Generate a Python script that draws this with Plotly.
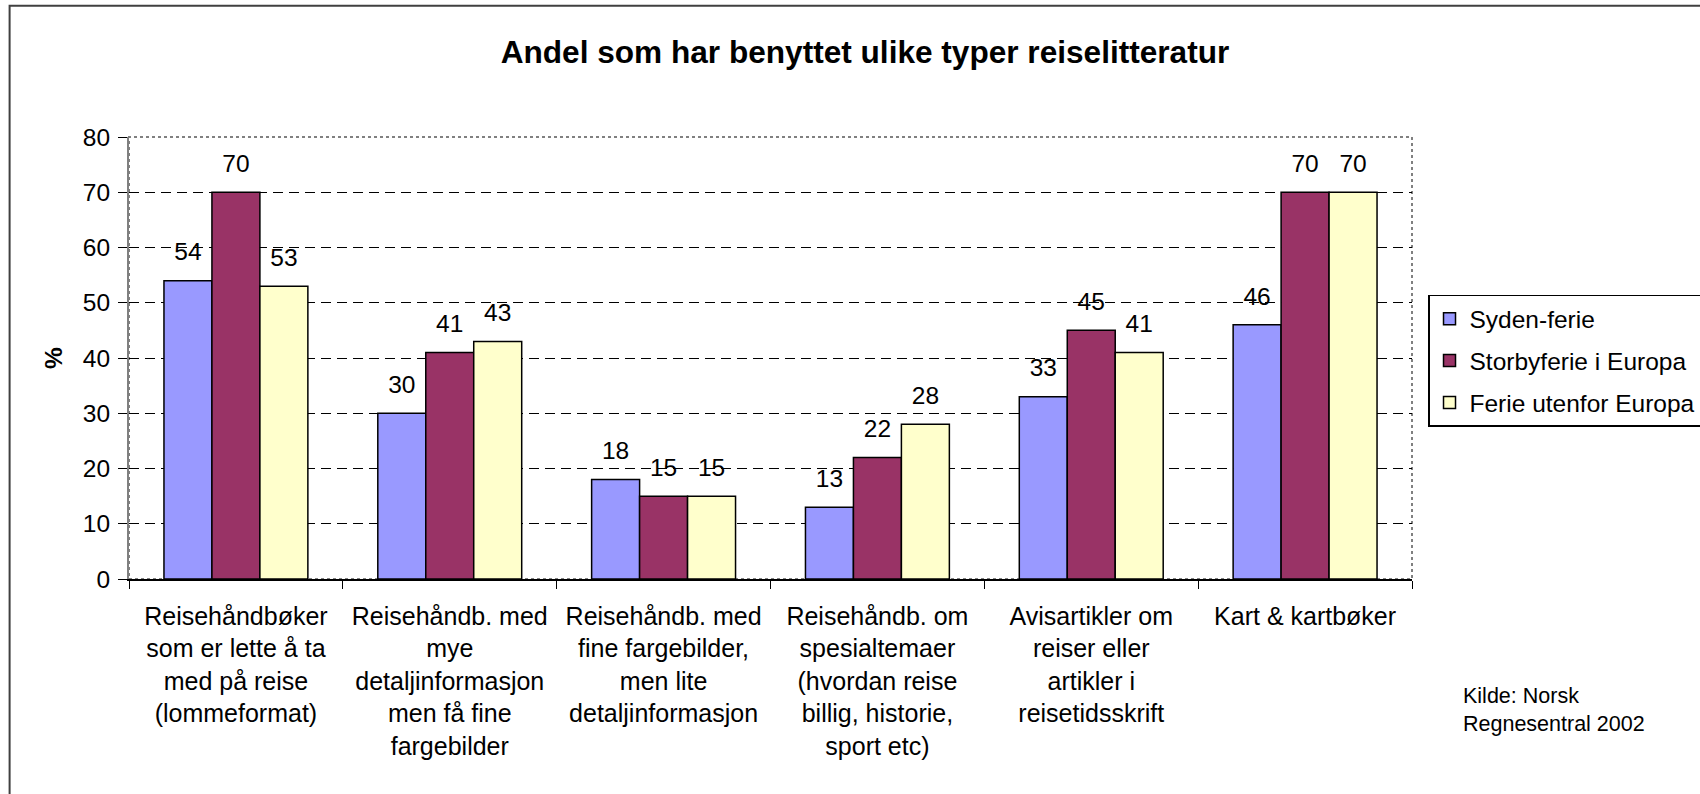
import plotly.graph_objects as go

categories = [
    "Reisehåndbøker<br>som er lette å ta<br>med på reise<br>(lommeformat)",
    "Reisehåndb. med<br>mye<br>detaljinformasjon<br>men få fine<br>fargebilder",
    "Reisehåndb. med<br>fine fargebilder,<br>men lite<br>detaljinformasjon",
    "Reisehåndb. om<br>spesialtemaer<br>(hvordan reise<br>billig, historie,<br>sport etc)",
    "Avisartikler om<br>reiser eller<br>artikler i<br>reisetidsskrift",
    "Kart & kartbøker",
]
series_names = ["Syden-ferie", "Storbyferie i Europa", "Ferie utenfor Europa"]
syden = [54, 30, 18, 13, 33, 46]
storby = [70, 41, 15, 22, 45, 70]
utenfor = [53, 43, 15, 28, 41, 70]
series_values = [syden, storby, utenfor]
colors = ["#9999FF", "#993366", "#FFFFCC"]

y_ticks = [0, 10, 20, 30, 40, 50, 60, 70, 80]
title_text = "Andel som har benyttet ulike typer reiselitteratur"
source_text = "Kilde: Norsk<br>Regnesentral 2002"

FONT = "Arial, Liberation Sans, sans-serif"
GAP = 0.327

fig = go.Figure()
for i, (name, vals, col) in enumerate(zip(series_names, series_values, colors)):
    fig.add_trace(go.Bar(
        x=categories, y=vals, name=name, offsetgroup=str(i), legendgroup=str(i),
        marker=dict(color=col, line=dict(color="black", width=1.5)),
        hoverinfo="skip",
    ))
for i, vals in enumerate(series_values):
    fig.add_trace(go.Scatter(
        x=categories, y=vals, offsetgroup=str(i), legendgroup=str(i), mode="markers+text",
        text=[str(v) for v in vals], textposition="top center",
        textfont=dict(family=FONT, size=24.5, color="black"),
        marker=dict(size=21, color="rgba(0,0,0,0)"),
        showlegend=False, hoverinfo="skip", cliponaxis=False,
    ))

fig.update_layout(
    width=1700, height=794,
    margin=dict(l=129, r=288, t=137, b=215, autoexpand=False),
    paper_bgcolor="white", plot_bgcolor="white",
    barmode="group", bargap=GAP, bargroupgap=0,
    scattermode="group", scattergap=GAP,
    font=dict(family=FONT, size=24.5, color="black"),
    title=dict(text="<b>" + title_text + "</b>", x=865 / 1700, xanchor="center",
               y=1 - 52 / 794, yanchor="middle",
               font=dict(family=FONT, size=31.6, color="black")),
    showlegend=True,
    legend=dict(x=1.0156 - 4 / 1283, y=0.643, xanchor="left", yanchor="top",
                bordercolor="black", borderwidth=1.5, bgcolor="white",
                font=dict(family=FONT, size=24.5, color="black"),
                tracegroupgap=7, traceorder="grouped"),
    xaxis=dict(type="category", tickson="boundaries", ticks="outside", ticklen=8,
               tickcolor="black", tickwidth=1, showgrid=False,
               showline=True, linecolor="black", linewidth=1.5,
               tickfont=dict(family=FONT, size=25, color="black"),
               ticklabelstandoff=14),
    yaxis=dict(range=[0, 80], tickvals=y_ticks, ticks="outside", ticklen=9,
               tickcolor="black", tickwidth=1,
               showline=True, linecolor="#808080", linewidth=2,
               showgrid=True, gridcolor="black", gridwidth=1, griddash="10px,6px",
               zeroline=False, tickfont=dict(family=FONT, size=24.5, color="black"),
               ticklabelstandoff=3),
    annotations=[
        dict(text="<b>%</b>", xref="paper", yref="paper", x=(53 - 129) / 1283, y=0.5,
             textangle=-90, showarrow=False, xanchor="center", yanchor="middle",
             font=dict(family=FONT, size=24.5, color="black")),
        dict(text=source_text, xref="paper", yref="paper", x=(1461 - 129) / 1283,
             y=(579.4 - 711) / 442.4, xanchor="left", yanchor="middle", align="left",
             showarrow=False, font=dict(family=FONT, size=21.5, color="black")),
    ],
    shapes=[
        dict(type="rect", xref="paper", yref="paper", x0=0, x1=1, y0=0, y1=1,
             line=dict(color="#808080", width=2, dash="dot"), layer="below"),
        dict(type="rect", xref="paper", yref="paper", x0=(9.6 - 129) / 1283,
             x1=(1710 - 129) / 1283, y0=-0.6, y1=(579 - 5.7) / 442,
             line=dict(color="#404040", width=2), layer="below"),
    ],
)

fig.write_html("out.html", config={"displayModeBar": False},
               post_script="document.body.style.margin='0';")
